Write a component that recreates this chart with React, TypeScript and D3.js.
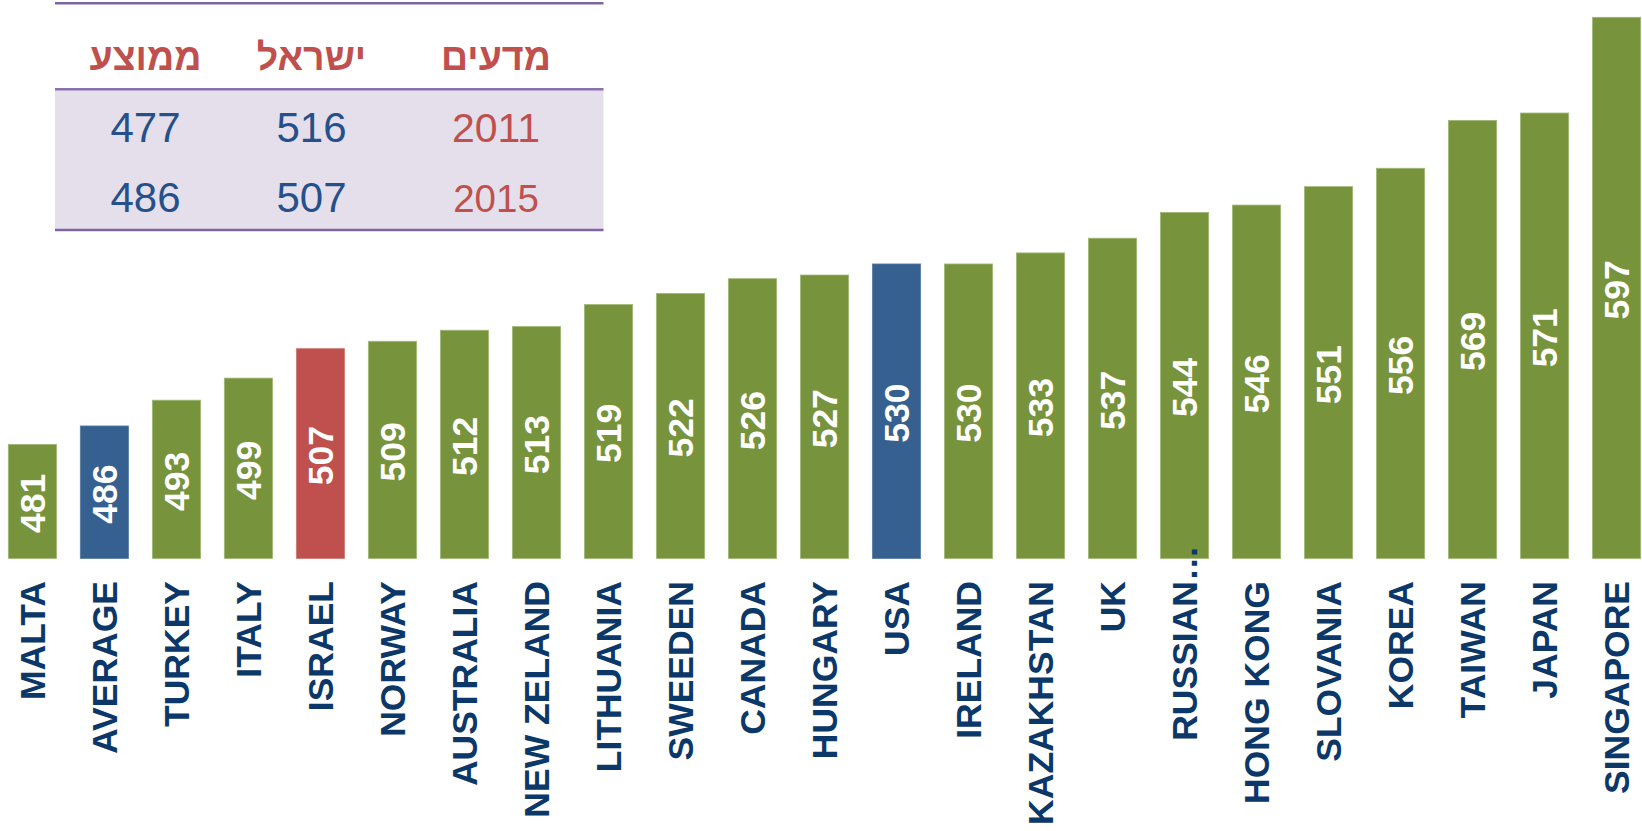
import React from "react";
import * as d3 from "d3";

const categories = [
  "MALTA", "AVERAGE", "TURKEY", "ITALY", "ISRAEL", "NORWAY", "AUSTRALIA",
  "NEW ZELAND", "LITHUANIA", "SWEEDEN", "CANADA", "HUNGARY", "USA", "IRELAND",
  "KAZAKHSTAN", "UK", "RUSSIAN", "HONG KONG", "SLOVANIA", "KOREA", "TAIWAN",
  "JAPAN", "SINGAPORE",
];
const scores = [
  481, 486, 493, 499, 507, 509, 512, 513, 519, 522, 526, 527, 530, 530, 533,
  537, 544, 546, 551, 556, 569, 571, 597,
];
const truncatedLabels = ["RUSSIAN"];
const blueBars = ["AVERAGE", "USA"];
const redBars = ["ISRAEL"];

const tableHeaders = ["ממוצע", "ישראל", "מדעים"];
const years = ["2011", "2015"];
const israelScores = [516, 507];
const averageScores = [477, 486];

const W = 1642;
const H = 831;
const FONT = "'Liberation Sans', Arial, Helvetica, sans-serif";

const GREEN = "#77933C";
const BLUE = "#36608F";
const RED = "#C0504D";
const NAVY = "#0B3868";

export default function App() {
  const x = d3
    .scaleBand<string>()
    .domain(categories)
    .range([8.3, 1640.7])
    .paddingInner(0.33)
    .paddingOuter(0);
  const y = d3.scaleLinear().domain([450, 597]).range([558.5, 17.3]);

  const colorOf = (c: string) =>
    blueBars.includes(c) ? BLUE : redBars.includes(c) ? RED : GREEN;
  const strokeOf = (c: string) =>
    blueBars.includes(c) ? "#5a7ca6" : redBars.includes(c) ? "#cf7a77" : "#a2b876";

  // table geometry
  const tLeft = 55;
  const tRight = 603.5;
  const tTop = 3.3;
  const tHead = 89.3;
  const tBottom = 230;
  const colX = [145.5, 311.5, 496];
  const rowBase = [141.7, 212.3];

  const labelTop = 581;

  return (
    <svg
      width={W}
      height={H}
      style={{ position: "absolute", left: 0, top: 0, background: "#fff" }}
      fontFamily={FONT}
    >
      {/* bars */}
      {categories.map((c, i) => {
        const x0 = x(c)!;
        const bw = x.bandwidth();
        const top = y(scores[i]);
        const bottom = y(450);
        const cx = x0 + bw / 2;
        return (
          <g key={c}>
            <rect
              x={x0}
              y={top}
              width={bw}
              height={bottom - top}
              fill={colorOf(c)}
              stroke={strokeOf(c)}
              strokeWidth={0.8}
            />
            <text
              transform={`translate(${cx},${(top + bottom) / 2 + 2}) rotate(-90)`}
              textAnchor="middle"
              dy="0.36em"
              fill="#fff"
              fontWeight="bold"
              fontSize={35.5}
            >
              {scores[i]}
            </text>
            <text
              transform={`translate(${cx},${labelTop}) rotate(-90)`}
              textAnchor="end"
              dy="0.36em"
              fill={NAVY}
              fontWeight="bold"
              fontSize={35.5}
            >
              {c}
            </text>
            {truncatedLabels.includes(c) && (
              <text
                transform={`translate(${cx},${labelTop}) rotate(-90)`}
                textAnchor="start"
                dy="0.36em"
                fill={NAVY}
                fontWeight="bold"
                fontSize={35.5}
              >
                …
              </text>
            )}
          </g>
        );
      })}

      {/* table */}
      <rect x={tLeft} y={tHead} width={tRight - tLeft} height={tBottom - tHead} fill="#E5DFEC" />
      <line x1={tLeft} x2={tRight} y1={tTop} y2={tTop} stroke="#8064A2" strokeWidth={2.5} />
      <line x1={tLeft} x2={tRight} y1={tHead} y2={tHead} stroke="#8A70AA" strokeWidth={2.5} />
      <line x1={tLeft} x2={tRight} y1={tBottom} y2={tBottom} stroke="#8064A2" strokeWidth={2.5} />
      {tableHeaders.map((h, i) => (
        <text
          key={h}
          x={colX[i]}
          y={70}
          textAnchor="middle"
          fill={RED}
          fontWeight="bold"
          fontSize={37.5}
          direction="rtl"
        >
          {h}
        </text>
      ))}
      {years.map((yr, r) => (
        <g key={yr}>
          <text x={colX[0]} y={rowBase[r]} textAnchor="middle" fill="#25508A" fontSize={42}>
            {averageScores[r]}
          </text>
          <text x={colX[1]} y={rowBase[r]} textAnchor="middle" fill="#25508A" fontSize={42}>
            {israelScores[r]}
          </text>
          <text
            x={colX[2]}
            y={rowBase[r]}
            textAnchor="middle"
            fill={RED}
            fontSize={r === 0 ? 41 : 38.5}
          >
            {yr}
          </text>
        </g>
      ))}
    </svg>
  );
}
